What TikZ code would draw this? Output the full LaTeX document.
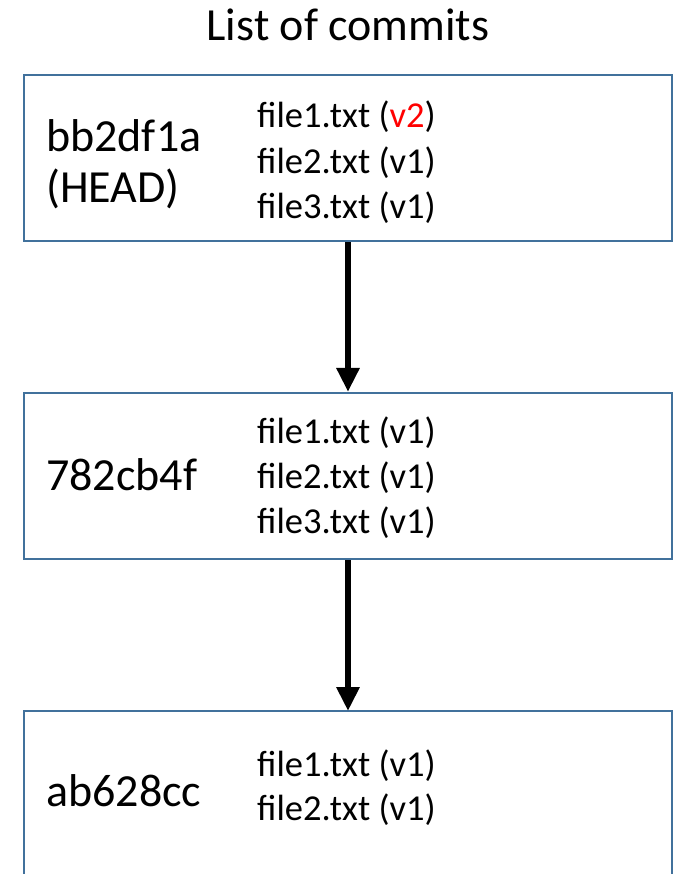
\documentclass[tikz,border=0pt]{standalone}
\usepackage{fontspec}
\setmainfont{Carlito}
\usetikzlibrary{arrows.meta}
\definecolor{boxblue}{HTML}{41719C}
\tikzset{
  commitbox/.style={draw=boxblue, line width=2.2pt, minimum width=648pt, minimum height=166pt, inner sep=0pt},
  idtext/.style={anchor=base west, inner sep=0pt, font=\fontsize{46}{52}\selectfont, align=left},
  filetext/.style={anchor=base west, inner sep=0pt, font=\fontsize{36.5}{45}\selectfont},
  titletext/.style={anchor=base, inner sep=0pt, font=\fontsize{46}{52}\selectfont},
  link/.style={line width=6pt, -{Triangle[length=24pt,width=22pt]}}
}
\begin{document}
\begin{tikzpicture}[x=1pt,y=-1pt]
\clip (0,0) rectangle (677,874);
\fill[white] (0,0) rectangle (677,874);
\node[titletext] (title) at (348,41) {List of commits};
% boxes
\node[commitbox] (c1) at (348,158) {};
\node[commitbox] (c2) at (348,476) {};
\path[draw=boxblue, line width=2.2pt] (24,900) coordinate (c3sw) -- (24,711) coordinate (c3nw) -- (672,711) coordinate (c3ne) -- (672,900) coordinate (c3se);
\coordinate (c3n) at (348,711);
% texts box 1
\node[idtext] (id1) at (46,152) {bb2df1a};
\node[idtext] (head1) at (46,203) {(HEAD)};
\node[filetext] (f11) at (257,128) {file1.txt (\textcolor{red}{v2})};
\node[filetext] (f12) at (257,174) {file2.txt (v1)};
\node[filetext] (f13) at (257,219) {file3.txt (v1)};
% texts box 2
\node[idtext] (id2) at (46,490) {782cb4f};
\node[filetext] (f21) at (257,443) {file1.txt (v1)};
\node[filetext] (f22) at (257,488) {file2.txt (v1)};
\node[filetext] (f23) at (257,533) {file3.txt (v1)};
% texts box 3
\node[idtext] (id3) at (46,806) {ab628cc};
\node[filetext] (f31) at (257,776) {file1.txt (v1)};
\node[filetext] (f32) at (257,820) {file2.txt (v1)};
% arrows
\draw[link] (c1.south) -- (c2.north);
\draw[link] (c2.south) -- (c3n);
\end{tikzpicture}
\end{document}
